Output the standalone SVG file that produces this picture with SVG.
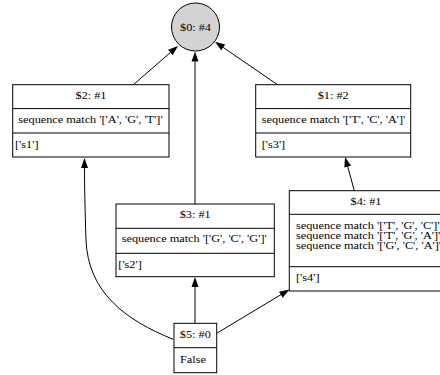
<svg xmlns="http://www.w3.org/2000/svg" width="440" height="375" viewBox="0 0 440 375">
<style>
  rect, line.d { fill: #ffffff; stroke: #000000; stroke-width: 1; }
  line.d { fill: none; }
  circle { fill: #d3d3d3; stroke: #000000; stroke-width: 1; }
  .e { fill: none; stroke: #000000; stroke-width: 1; marker-end: url(#ah); }
  text { font-family: 'Liberation Serif', 'DejaVu Serif', serif; font-size: 10.3px; fill: #000000; }
  .c { text-anchor: middle; }
  .l { text-anchor: start; }
</style>
<defs>
  <marker id="ah" markerUnits="userSpaceOnUse" markerWidth="10" markerHeight="7" refX="0" refY="3.5" orient="auto" overflow="visible">
    <path d="M0,0 L10,3.5 L0,7 z" fill="#000000"/>
  </marker>
</defs>
<g id="edges">
  <path class="e" d="M133,85 L170.4,52.5"/>
  <path class="e" d="M195,204 L195,61.5"/>
  <path class="e" d="M278,85 L223.2,47.4"/>
  <path class="e" d="M354.3,190.7 L347.7,166.6"/>
  <path class="e" d="M195,323.3 L195,287"/>
  <path class="e" d="M216.7,333.3 L280.9,294.7"/>
  <path class="e" d="M173.3,339.3 C125,320 88,292 86,240 C85,210 84.5,185 84.5,168"/>
</g>
<g id="n0">
  <circle cx="195.5" cy="27" r="24"/>
  <text class="c" x="195.5" y="30.5" textLength="31" lengthAdjust="spacingAndGlyphs">$0: #4</text>
</g>
<g id="n2">
  <rect x="12.7" y="84.7" width="156.3" height="72.3"/>
  <line class="d" x1="12.7" y1="108.6" x2="169" y2="108.6"/>
  <line class="d" x1="12.7" y1="133" x2="169" y2="133"/>
  <text class="c" x="91" y="98.5" textLength="31" lengthAdjust="spacingAndGlyphs">$2: #1</text>
  <text class="l" x="18.3" y="122.5" textLength="144.3" lengthAdjust="spacingAndGlyphs">sequence match '['A', 'G', 'T']'</text>
  <text class="l" x="15" y="147.5" textLength="23.5" lengthAdjust="spacingAndGlyphs">['s1']</text>
</g>
<g id="n1">
  <rect x="255.7" y="84.7" width="155" height="72.3"/>
  <line class="d" x1="255.7" y1="108.6" x2="410.7" y2="108.6"/>
  <line class="d" x1="255.7" y1="133" x2="410.7" y2="133"/>
  <text class="c" x="333.2" y="98.5" textLength="31" lengthAdjust="spacingAndGlyphs">$1: #2</text>
  <text class="l" x="261.7" y="122.5" textLength="143.6" lengthAdjust="spacingAndGlyphs">sequence match '['T', 'C', 'A']'</text>
  <text class="l" x="261.7" y="147.5" textLength="23.5" lengthAdjust="spacingAndGlyphs">['s3']</text>
</g>
<g id="n3">
  <rect x="116" y="204" width="158.3" height="72.7"/>
  <line class="d" x1="116" y1="228.3" x2="274.3" y2="228.3"/>
  <line class="d" x1="116" y1="253.3" x2="274.3" y2="253.3"/>
  <text class="c" x="195.2" y="218" textLength="31" lengthAdjust="spacingAndGlyphs">$3: #1</text>
  <text class="l" x="121.7" y="242" textLength="145" lengthAdjust="spacingAndGlyphs">sequence match '['G', 'C', 'G']'</text>
  <text class="l" x="118.3" y="267.5" textLength="23.5" lengthAdjust="spacingAndGlyphs">['s2']</text>
</g>
<g id="n4">
  <rect x="289.3" y="190.7" width="158" height="100.3"/>
  <line class="d" x1="289.3" y1="214.3" x2="447.3" y2="214.3"/>
  <line class="d" x1="289.3" y1="266.7" x2="447.3" y2="266.7"/>
  <text class="c" x="366" y="204.5" textLength="31" lengthAdjust="spacingAndGlyphs">$4: #1</text>
  <text class="l" x="296" y="228.7" textLength="143.6" lengthAdjust="spacingAndGlyphs">sequence match '['T', 'G', 'C']'</text>
  <text class="l" x="296" y="238.7" textLength="144.3" lengthAdjust="spacingAndGlyphs">sequence match '['T', 'G', 'A']'</text>
  <text class="l" x="296" y="248.7" textLength="145" lengthAdjust="spacingAndGlyphs">sequence match '['G', 'C', 'A']'</text>
  <text class="l" x="296" y="280.5" textLength="23.5" lengthAdjust="spacingAndGlyphs">['s4']</text>
</g>
<g id="n5">
  <rect x="174" y="323.3" width="42.7" height="49.4"/>
  <line class="d" x1="174" y1="347.7" x2="216.7" y2="347.7"/>
  <text class="c" x="195.3" y="337.7" textLength="31" lengthAdjust="spacingAndGlyphs">$5: #0</text>
  <text class="l" x="180" y="363" textLength="25.9" lengthAdjust="spacingAndGlyphs">False</text>
</g>
</svg>
